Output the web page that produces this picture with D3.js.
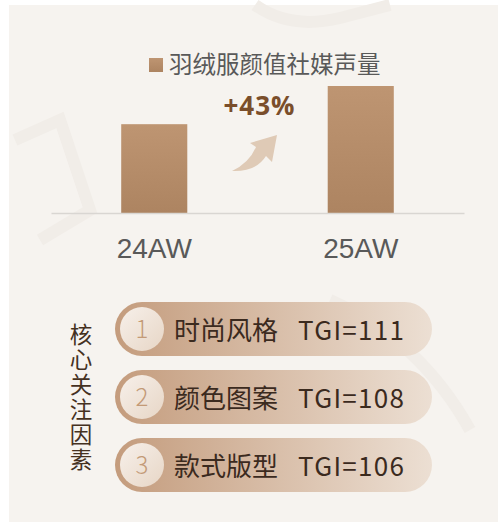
<!DOCTYPE html>
<html lang="zh">
<head>
<meta charset="UTF-8">
<title>羽绒服颜值社媒声量</title>
<script src="https://d3js.org/d3.v7.min.js"></script>
<style>
    body { margin: 0; background: #ffffff; }
    svg { display: block; }
</style>
</head>
<body>
<svg id="chart" width="498" height="522"></svg>
<script>
    // data
    const seasons = ["24AW", "25AW"];
    const volume = [100, 143];
    const growthLabel = "+43%";
    const legendLabel = "羽绒服颜值社媒声量";
    const factors = ["时尚风格", "颜色图案", "款式版型"];
    const tgi = [111, 108, 106];
    const sideTitle = "核心关注因素";

    const svg = d3.select("#chart");
    const cjk = "'Noto Sans CJK SC', 'Noto Sans', sans-serif";

    const defs = svg.append("defs");
    const barGrad = defs.append("linearGradient").attr("id", "barGrad")
        .attr("x1", 0).attr("y1", 0).attr("x2", 0).attr("y2", 1);
    barGrad.append("stop").attr("offset", "0%").attr("stop-color", "#be9572");
    barGrad.append("stop").attr("offset", "100%").attr("stop-color", "#ad8461");

    const pillGrad = defs.append("linearGradient").attr("id", "pillGrad")
        .attr("x1", 0).attr("y1", 0).attr("x2", 1).attr("y2", 0);
    pillGrad.append("stop").attr("offset", "0%").attr("stop-color", "#c49c7d");
    pillGrad.append("stop").attr("offset", "100%").attr("stop-color", "#ecdfd3");

    const dotGrad = defs.append("linearGradient").attr("id", "dotGrad")
        .attr("x1", 0).attr("y1", 0).attr("x2", 1).attr("y2", 1);
    dotGrad.append("stop").attr("offset", "0%").attr("stop-color", "#f7f0ea");
    dotGrad.append("stop").attr("offset", "100%").attr("stop-color", "#e7d6c6");

    // panel background
    svg.append("rect").attr("x", 9).attr("y", 5).attr("width", 489).attr("height", 517)
        .attr("fill", "#f6f3ef");

    // faint watermark shapes
    const wm = svg.append("g").attr("fill", "none").attr("stroke", "#f1ede8").attr("stroke-width", 12);
    wm.append("path").attr("d", "M255,5 Q290,30 340,18 L390,5");
    wm.append("path").attr("d", "M15,140 L60,120 L90,210 L40,240");
    wm.append("path").attr("d", "M330,300 Q420,340 470,430");

    // bar chart
    const x = d3.scaleBand().domain(seasons).range([51, 464]).paddingInner(0.68).paddingOuter(0.34);
    const y = d3.scaleLinear().domain([0, 143]).range([213, 86]);

    svg.append("g").selectAll("rect")
        .data(seasons)
        .join("rect")
        .attr("x", d => x(d))
        .attr("width", x.bandwidth())
        .attr("y", (d, i) => y(volume[i]))
        .attr("height", (d, i) => y(0) - y(volume[i]))
        .attr("fill", "url(#barGrad)");

    const xAxis = svg.append("g")
        .attr("transform", `translate(0,${y(0)})`)
        .call(d3.axisBottom(x).tickSize(0).tickPadding(25));
    xAxis.select(".domain").attr("stroke", "#d9d6d2").attr("stroke-width", 1.5);
    xAxis.selectAll("text")
        .attr("font-family", "'Liberation Sans', Arial, sans-serif")
        .attr("font-size", 28)
        .attr("fill", "#595959");

    // legend
    svg.append("rect").attr("x", 149).attr("y", 58).attr("width", 14).attr("height", 14)
        .attr("fill", "url(#barGrad)");
    svg.append("text").attr("x", 169).attr("y", 73)
        .attr("font-family", cjk).attr("font-size", 23.5).attr("fill", "#595959")
        .text(legendLabel);

    // growth annotation
    const midX = (x(seasons[0]) + x(seasons[1]) + x.bandwidth()) / 2;
    svg.append("text").attr("x", midX + 2).attr("y", 115).attr("text-anchor", "middle")
        .attr("font-family", "'Open Sans', 'Noto Sans', sans-serif").attr("font-weight", "bold")
        .attr("font-size", 26).attr("letter-spacing", 1).attr("fill", "#7a4e2b")
        .text(growthLabel);
    svg.append("path")
        .attr("d", "M232,171 Q249,163 256,147 L250,143 L277,135 L272,162 L266,156 Q256,172 232,171 Z")
        .attr("fill", "#dfcab6");

    // side title (vertical)
    svg.append("text")
        .attr("x", 81).attr("y", 323)
        .style("writing-mode", "vertical-rl")
        .attr("font-family", cjk).attr("font-size", 22.5).attr("letter-spacing", 2.5)
        .attr("fill", "#45311f")
        .text(sideTitle);

    // factor pills
    const py = d3.scaleBand().domain(factors).range([302, 492]).paddingInner(0.206);
    const pill = svg.append("g").selectAll("g")
        .data(factors)
        .join("g")
        .attr("transform", d => `translate(0,${py(d)})`);

    pill.append("rect")
        .attr("x", 115).attr("width", 317).attr("height", py.bandwidth()).attr("rx", py.bandwidth() / 2)
        .attr("fill", "url(#pillGrad)");
    pill.append("circle")
        .attr("cx", 142).attr("cy", py.bandwidth() / 2).attr("r", 22)
        .attr("fill", "url(#dotGrad)");
    pill.append("text")
        .attr("x", 142).attr("y", 36).attr("text-anchor", "middle")
        .attr("font-family", cjk).attr("font-weight", 300).attr("font-size", 24).attr("fill", "#c39a77")
        .text((d, i) => i + 1);
    pill.append("text")
        .attr("x", 174).attr("y", 38)
        .attr("font-family", cjk).attr("font-size", 26).attr("fill", "#3b2a1e")
        .text(d => d);
    pill.append("text")
        .attr("x", 298).attr("y", 38)
        .attr("font-family", cjk).attr("font-size", 26).attr("letter-spacing", 1.3).attr("fill", "#3b2a1e")
        .text((d, i) => "TGI=" + tgi[i]);
</script>
</body>
</html>
